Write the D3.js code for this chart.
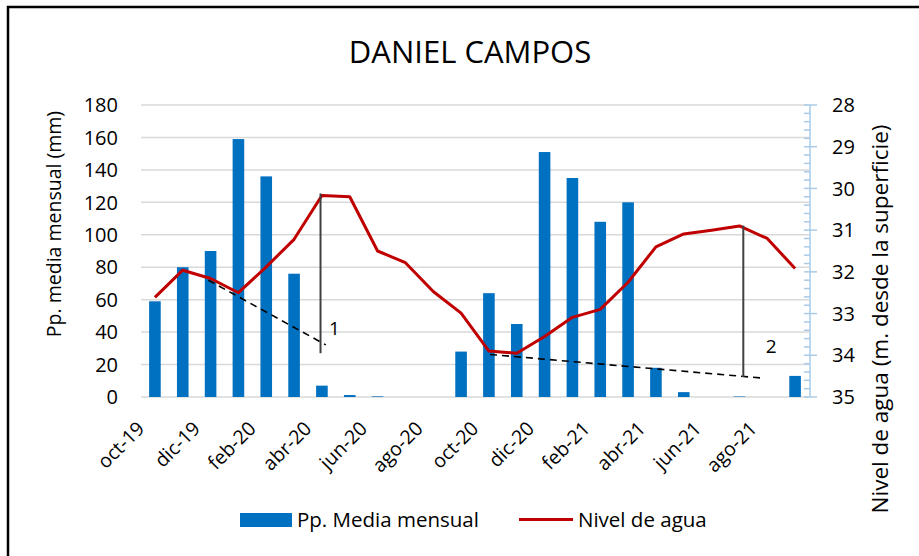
<!DOCTYPE html>
<html>
<head>
<meta charset="utf-8">
<script src="https://cdn.jsdelivr.net/npm/d3@7"></script>
<style>
  html, body { margin: 0; padding: 0; background: #fff; }
  svg { display: block; }
  text { font-family: "Open Sans", "Noto Sans", sans-serif; fill: #000; }
</style>
</head>
<body>
<svg id="chart" width="919" height="556"></svg>
<script>
// ---------- DATA ----------
const months = ["oct-19","nov-19","dic-19","ene-20","feb-20","mar-20","abr-20","may-20","jun-20","jul-20","ago-20","sep-20",
                "oct-20","nov-20","dic-20","ene-21","feb-21","mar-21","abr-21","may-21","jun-21","jul-21","ago-21","sep-21"];
const precip = [59, 80, 90, 159, 136, 76, 7, 1.2, 0.4, 0, 0, 28, 64, 45, 151, 135, 108, 120, 18, 3, 0, 0.3, 0, 13];
const nivel  = [32.61, 31.96, 32.16, 32.50, 31.88, 31.22, 30.17, 30.20, 31.50, 31.78, 32.47, 32.99,
                33.90, 33.95, 33.55, 33.09, 32.90, 32.25, 31.40, 31.09, 31.00, 30.90, 31.20, 31.92];
const leftTicks  = [0, 20, 40, 60, 80, 100, 120, 140, 160, 180];
const rightTicks = [28, 29, 30, 31, 32, 33, 34, 35];
// annotations: [month index (fractional), water depth]
const dash1 = [[1.92, 32.20], [6.14, 33.75]];
const vert1 = [[5.95, 30.12], [5.95, 33.95]];
const lab1  = [6.25, 33.35];
const dash2 = [[12.04, 33.98], [21.88, 34.55]];
const vert2 = [[21.14, 30.89], [21.14, 34.52]];
const lab2  = [21.95, 33.77];

// ---------- LAYOUT ----------
const svg = d3.select("#chart");
const W = 919, H = 556;
const plot = {left: 141, right: 809, top: 105, bottom: 397};

svg.append("rect").attr("x", 0).attr("y", 0).attr("width", W).attr("height", H).attr("fill", "#fff");
// frame
svg.append("rect").attr("x", 8).attr("y", 7).attr("width", 940).attr("height", 580)
  .attr("fill", "none").attr("stroke", "#000").attr("stroke-width", 2.5);

const x = d3.scaleBand().domain(months).range([plot.left, plot.right]).paddingInner(0).paddingOuter(0);
const bw = x.bandwidth();
const xi = d3.scaleLinear().domain([0, months.length - 1])
  .range([x(months[0]) + bw / 2, x(months[months.length - 1]) + bw / 2]);
const yL = d3.scaleLinear().domain([0, 180]).range([plot.bottom, plot.top]);
const yR = d3.scaleLinear().domain([28, 35]).range([plot.top, plot.bottom]);

// title
svg.append("text").attr("x", 470).attr("y", 63).attr("text-anchor", "middle")
  .style("font-size", "31px").text("DANIEL CAMPOS");

// gridlines
svg.append("g").selectAll("line").data(leftTicks).join("line")
  .attr("x1", plot.left).attr("x2", plot.right)
  .attr("y1", d => yL(d)).attr("y2", d => yL(d))
  .attr("stroke", "#d9d9d9").attr("stroke-width", 1.5);

// left tick labels
svg.append("g").selectAll("text").data(leftTicks).join("text")
  .attr("x", 118).attr("y", d => yL(d)).attr("dy", "0.36em")
  .attr("text-anchor", "end").style("font-size", "20px").text(d => d);

// right axis
const gR = svg.append("g");
gR.append("line").attr("x1", 810).attr("x2", 810).attr("y1", yR(28)).attr("y2", yR(35))
  .attr("stroke", "#a9cbe8").attr("stroke-width", 1.5);
const minor = d3.range(28, 35.001, 0.2).filter(v => Math.abs(v - Math.round(v)) > 0.01);
gR.selectAll("line.mi").data(minor).join("line").attr("class", "mi")
  .attr("x1", 804).attr("x2", 810).attr("y1", d => yR(d)).attr("y2", d => yR(d))
  .attr("stroke", "#a9cbe8").attr("stroke-width", 1.5);
gR.selectAll("line.ma").data(rightTicks).join("line").attr("class", "ma")
  .attr("x1", 804).attr("x2", 817).attr("y1", d => yR(d)).attr("y2", d => yR(d))
  .attr("stroke", "#a9cbe8").attr("stroke-width", 1.5);
gR.selectAll("text").data(rightTicks).join("text")
  .attr("x", 832).attr("y", d => yR(d)).attr("dy", "0.36em")
  .style("font-size", "20px").text(d => d);

// bars
svg.append("g").selectAll("rect").data(precip).join("rect")
  .attr("x", (d, i) => x(months[i]) + bw / 2 - 5.8)
  .attr("width", 11.6)
  .attr("y", d => yL(d))
  .attr("height", d => yL(0) - yL(d))
  .attr("fill", "#0070c0");

// line
const line = d3.line().x((d, i) => xi(i)).y(d => yR(d));
svg.append("path").datum(nivel).attr("d", line)
  .attr("fill", "none").attr("stroke", "#c00000").attr("stroke-width", 3)
  .attr("stroke-linejoin", "round");

// annotations
const aLine = d3.line().x(d => xi(d[0])).y(d => yR(d[1]));
[dash1, dash2].forEach(seg => {
  svg.append("path").datum(seg).attr("d", aLine).attr("fill", "none")
    .attr("stroke", "#000").attr("stroke-width", 1.6).attr("stroke-dasharray", "7,5");
});
[vert1, vert2].forEach(seg => {
  svg.append("path").datum(seg).attr("d", aLine).attr("fill", "none")
    .attr("stroke", "#404040").attr("stroke-width", 2);
});
[[lab1, "1"], [lab2, "2"]].forEach(([p, t]) => {
  svg.append("text").attr("x", xi(p[0])).attr("y", yR(p[1])).attr("dy", "0.36em")
    .style("font-size", "19px").text(t);
});

// x labels
svg.append("g").selectAll("text").data(months.filter((m, i) => i % 2 === 0)).join("text")
  .attr("transform", d => `translate(${x(d) + bw / 2 - 14},${425}) rotate(-45)`)
  .attr("text-anchor", "end").attr("dy", "0.35em")
  .style("font-size", "19.5px").text(d => d);

// axis titles
svg.append("text").attr("transform", "translate(61,224) rotate(-90)")
  .attr("text-anchor", "middle").style("font-size", "19.5px").text("Pp. media mensual (mm)");
svg.append("text").attr("transform", "translate(888,319) rotate(-90)")
  .attr("text-anchor", "middle").style("font-size", "22.5px").text("Nivel de agua (m. desde la superficie)");

// legend
svg.append("rect").attr("x", 240).attr("y", 513).attr("width", 52).attr("height", 14).attr("fill", "#0070c0");
svg.append("text").attr("x", 297).attr("y", 527).style("font-size", "20.5px").text("Pp. Media mensual");
svg.append("line").attr("x1", 519).attr("x2", 573).attr("y1", 519.5).attr("y2", 519.5)
  .attr("stroke", "#c00000").attr("stroke-width", 3);
svg.append("text").attr("x", 578).attr("y", 527).style("font-size", "20.5px").text("Nivel de agua");
</script>
</body>
</html>
